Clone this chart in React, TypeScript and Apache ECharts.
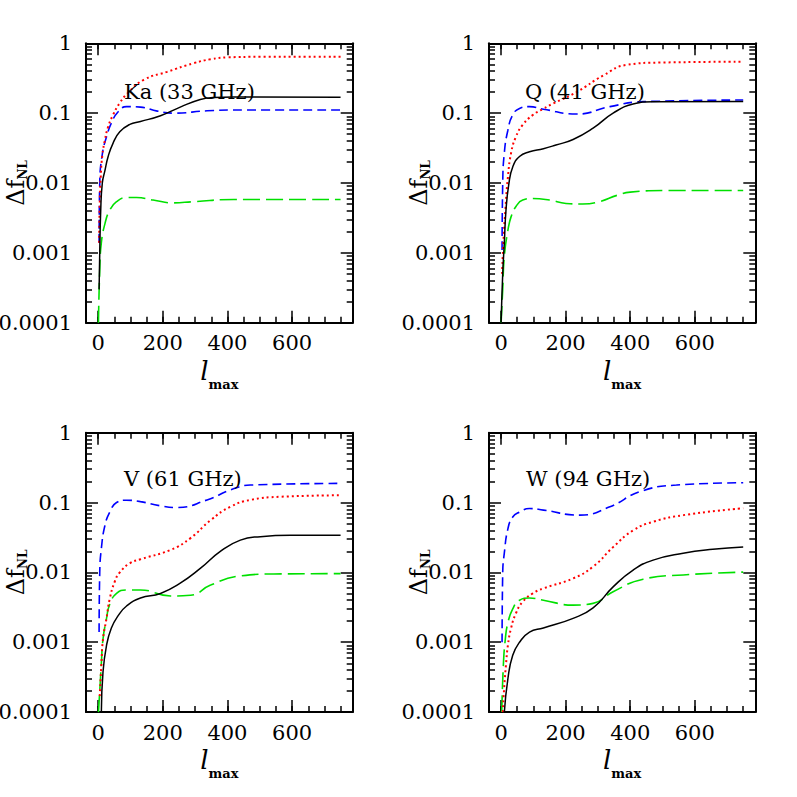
import React, { useEffect, useRef } from 'react';
import * as echarts from 'echarts';

// ---------- data ----------
const panelTitles = ['Ka (33 GHz)', 'Q (41 GHz)', 'V (61 GHz)', 'W (94 GHz)'];
const xMajorTicks = [0, 200, 400, 600];
const xMinorTicks = [0, 50, 100, 150, 200, 250, 300, 350, 400, 450, 500, 550, 600, 650, 700, 750];
const minorMultipliers = [2, 3, 4, 5, 6, 7, 8, 9];
const decadeExponents = [-4, -3, -2, -1];

// Ka (33 GHz)
const kaBlack = [[3, 0.0003], [5, 0.001], [8, 0.004], [13, 0.01], [21, 0.015], [31, 0.024], [46, 0.037], [67, 0.054], [98, 0.069], [131, 0.076], [193, 0.092], [254, 0.122], [316, 0.157], [357, 0.168], [420, 0.17], [750, 0.169]];
const kaRed = [[3, 0.0014], [5, 0.005], [8, 0.012], [13, 0.025], [21, 0.041], [31, 0.064], [46, 0.094], [67, 0.14], [90, 0.19], [141, 0.3], [213, 0.39], [296, 0.52], [347, 0.59], [400, 0.63], [500, 0.64], [750, 0.64]];
const kaBlue = [[3, 0.0014], [5, 0.01], [13, 0.026], [26, 0.046], [41, 0.072], [62, 0.105], [88, 0.124], [131, 0.122], [183, 0.107], [234, 0.1], [337, 0.108], [450, 0.111], [750, 0.111]];
const kaGreen = [[1, 0.0001], [5, 0.00056], [10, 0.0014], [21, 0.0026], [36, 0.0041], [57, 0.0054], [88, 0.0062], [119, 0.0062], [170, 0.0057], [232, 0.0052], [294, 0.0054], [420, 0.0058], [750, 0.0058]];

// Q (41 GHz)
const qBlack = [[0, 0.0001], [5, 0.0005], [10, 0.0014], [15, 0.004], [24, 0.0097], [36, 0.017], [57, 0.024], [88, 0.028], [131, 0.031], [170, 0.035], [223, 0.042], [285, 0.061], [347, 0.1], [409, 0.135], [471, 0.146], [750, 0.147]];
const qRed = [[3, 0.0005], [7, 0.0014], [13, 0.004], [21, 0.012], [31, 0.027], [46, 0.046], [67, 0.068], [98, 0.094], [130, 0.115], [162, 0.138], [234, 0.2], [318, 0.35], [388, 0.49], [491, 0.53], [750, 0.545]];
const qBlue = [[3, 0.0011], [5, 0.01], [10, 0.027], [21, 0.057], [36, 0.094], [57, 0.117], [88, 0.124], [131, 0.114], [234, 0.097], [337, 0.124], [440, 0.146], [750, 0.154]];
const qGreen = [[0, 0.0001], [5, 0.0003], [10, 0.0009], [21, 0.0021], [31, 0.0033], [46, 0.0046], [67, 0.0057], [98, 0.006], [150, 0.0057], [201, 0.0051], [253, 0.005], [304, 0.0054], [361, 0.0067], [400, 0.0074], [513, 0.0078], [750, 0.0078]];

// V (61 GHz)
const vBlack = [[10, 0.0001], [15, 0.00037], [26, 0.0009], [41, 0.0016], [62, 0.0024], [88, 0.0033], [131, 0.0043], [193, 0.005], [254, 0.007], [316, 0.0114], [378, 0.02], [440, 0.029], [502, 0.0325], [595, 0.034], [750, 0.034]];
const vRed = [[5, 0.00017], [10, 0.00047], [15, 0.0011], [26, 0.0022], [36, 0.0042], [52, 0.0075], [67, 0.01], [98, 0.0135], [131, 0.0154], [224, 0.021], [286, 0.031], [348, 0.056], [409, 0.087], [471, 0.109], [564, 0.121], [750, 0.127]];
const vBlue = [[3, 0.0014], [5, 0.01], [10, 0.022], [21, 0.047], [36, 0.073], [57, 0.1], [88, 0.108], [131, 0.103], [191, 0.09], [244, 0.085], [337, 0.109], [409, 0.151], [471, 0.178], [750, 0.188]];
const vGreen = [[1, 0.0001], [5, 0.0002], [10, 0.0005], [15, 0.0011], [26, 0.0022], [36, 0.0035], [57, 0.005], [88, 0.0056], [131, 0.0056], [224, 0.0046], [286, 0.0047], [348, 0.0066], [440, 0.0089], [543, 0.0095], [750, 0.0096]];

// W (94 GHz)
const wBlack = [[10, 0.0001], [21, 0.0003], [36, 0.00065], [57, 0.001], [88, 0.0014], [131, 0.0016], [223, 0.0022], [285, 0.0031], [347, 0.0062], [409, 0.0108], [471, 0.015], [564, 0.0188], [656, 0.0214], [750, 0.0231]];
const wRed = [[5, 0.0001], [10, 0.00024], [15, 0.00047], [21, 0.0009], [31, 0.0016], [46, 0.0026], [67, 0.0038], [98, 0.005], [131, 0.0059], [223, 0.0082], [285, 0.0121], [347, 0.023], [409, 0.04], [471, 0.053], [564, 0.066], [750, 0.083]];
const wBlue = [[3, 0.001], [5, 0.01], [10, 0.019], [21, 0.042], [36, 0.062], [57, 0.073], [88, 0.082], [131, 0.078], [244, 0.066], [337, 0.087], [430, 0.143], [543, 0.178], [750, 0.192]];
const wGreen = [[2, 0.0001], [7, 0.00047], [13, 0.0011], [21, 0.0019], [36, 0.003], [57, 0.004], [88, 0.0043], [131, 0.004], [223, 0.0034], [285, 0.0036], [347, 0.0053], [440, 0.008], [564, 0.0092], [750, 0.0101]];

const panelData = [
  [kaBlack, kaRed, kaBlue, kaGreen],
  [qBlack, qRed, qBlue, qGreen],
  [vBlack, vRed, vBlue, vGreen],
  [wBlack, wRed, wBlue, wGreen],
];

// ---------- layout / style ----------
const X_MIN = -37.5;
const X_MAX = 787.5;
const gridRects = [
  { left: 86, top: 43.3, width: 266.7, height: 279.4 },
  { left: 489, top: 43.3, width: 266.3, height: 279.4 },
  { left: 86, top: 432.7, width: 266.7, height: 279.4 },
  { left: 489, top: 432.7, width: 266.3, height: 279.4 },
];
const titlePos = [
  { left: 124, top: 81 },
  { left: 525, top: 81 },
  { left: 124, top: 468 },
  { left: 526, top: 468 },
];
const lineStyles = [
  { color: '#000000', type: 'solid' as any, width: 1.5 },
  { color: '#ff0000', type: [2, 3] as any, width: 2 },
  { color: '#0000ff', type: [9, 5] as any, width: 1.6 },
  { color: '#00e000', type: [17, 6] as any, width: 1.6 },
];
const FONT = 'DejaVu Serif';

export default function App() {
  const ref = useRef<HTMLDivElement>(null);
  useEffect(() => {
    const chart = echarts.init(ref.current!, null, { renderer: 'svg' });
    const yMinorLog: number[] = [];
    decadeExponents.forEach((d) => minorMultipliers.forEach((m) => yMinorLog.push(d + Math.log10(m))));

    const grid: any[] = [];
    const xAxis: any[] = [];
    const yAxis: any[] = [];
    const series: any[] = [];
    const title: any[] = [];
    const frameLine = { show: true, onZero: false, lineStyle: { color: '#000', width: 2 } };
    const noLine = { show: false, onZero: false };
    const tickStyle = { color: '#000', width: 1.5 };

    panelData.forEach((sers, i) => {
      const g = gridRects[i];
      grid.push({ left: g.left, top: g.top, width: g.width, height: g.height, containLabel: false, outerBoundsMode: 'none' });
      title.push({
        text: panelTitles[i], left: titlePos[i].left, top: titlePos[i].top, padding: 0,
        textStyle: { fontFamily: FONT, fontSize: 21, fontWeight: 'normal', color: '#000' },
      });
      const xBase = { gridIndex: i, type: 'value', min: X_MIN, max: X_MAX, splitLine: { show: false } };
      xAxis.push({ ...xBase, position: 'bottom', axisLine: frameLine,
        axisTick: { show: true, inside: true, length: 6, customValues: xMinorTicks, lineStyle: tickStyle },
        axisLabel: { show: false } });
      xAxis.push({ ...xBase, position: 'bottom', axisLine: noLine,
        axisTick: { show: true, inside: true, length: 12, customValues: xMajorTicks, lineStyle: tickStyle },
        axisLabel: { show: true, customValues: xMajorTicks, margin: 10, fontFamily: FONT, fontSize: 21, color: '#000' },
        name: '{l|l}{s|max}', nameLocation: 'middle', nameGap: 28, nameMoveOverlap: false,
        nameTextStyle: { rich: {
          l: { fontFamily: FONT, fontStyle: 'italic', fontSize: 26, lineHeight: 40, color: '#000', verticalAlign: 'middle' },
          s: { fontFamily: FONT, fontWeight: 'bold', fontSize: 13, color: '#000', verticalAlign: 'bottom' },
        } } });
      xAxis.push({ ...xBase, position: 'top', axisLine: frameLine,
        axisTick: { show: true, inside: true, length: 6, customValues: xMinorTicks, lineStyle: tickStyle },
        axisLabel: { show: false } });
      xAxis.push({ ...xBase, position: 'top', axisLine: noLine,
        axisTick: { show: true, inside: true, length: 12, customValues: xMajorTicks, lineStyle: tickStyle },
        axisLabel: { show: false } });

      const yLog = { gridIndex: i, type: 'log', logBase: 10, min: 0.0001, max: 1, splitLine: { show: false } };
      const yLin = { gridIndex: i, type: 'value', min: -4, max: 0, splitLine: { show: false } };
      yAxis.push({ ...yLog, position: 'left', axisLine: frameLine,
        axisTick: { show: true, inside: true, length: 12, lineStyle: tickStyle },
        axisLabel: { show: true, margin: 14, fontFamily: FONT, fontSize: 21, color: '#000',
          formatter: (v: number) => String(v) },
        name: '{d|Δf}{s|NL}', nameLocation: 'middle', nameGap: 57, nameRotate: 90, nameMoveOverlap: false,
        nameTextStyle: { rich: {
          d: { fontFamily: FONT, fontSize: 24, lineHeight: 27, color: '#000', verticalAlign: 'middle' },
          s: { fontFamily: FONT, fontWeight: 'bold', fontSize: 12, color: '#000', verticalAlign: 'bottom' },
        } } });
      yAxis.push({ ...yLin, position: 'left', axisLine: noLine,
        axisTick: { show: true, inside: true, length: 6, customValues: yMinorLog, lineStyle: tickStyle },
        axisLabel: { show: false } });
      yAxis.push({ ...yLog, position: 'right', axisLine: frameLine,
        axisTick: { show: true, inside: true, length: 12, lineStyle: tickStyle },
        axisLabel: { show: false } });
      yAxis.push({ ...yLin, position: 'right', axisLine: noLine,
        axisTick: { show: true, inside: true, length: 6, customValues: yMinorLog, lineStyle: tickStyle },
        axisLabel: { show: false } });

      sers.forEach((d, k) => {
        series.push({
          type: 'line', xAxisIndex: i * 4, yAxisIndex: i * 4, data: d,
          showSymbol: false, symbol: 'none', smooth: 0.5, clip: true,
          lineStyle: lineStyles[k], z: 2 + (3 - k),
        });
      });
    });

    chart.setOption({ animation: false, backgroundColor: '#fff', title, grid, xAxis, yAxis, series });
    return () => chart.dispose();
  }, []);
  return <div ref={ref} style={{ position: 'fixed', left: 0, top: 0, width: 797, height: 797 }} />;
}
